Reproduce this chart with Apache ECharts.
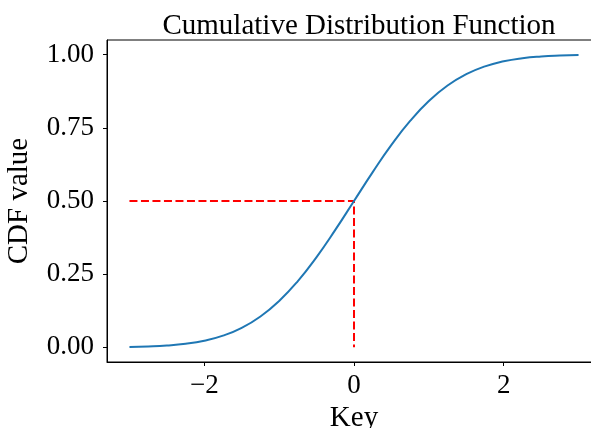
<!DOCTYPE html>
<html>
<head>
<meta charset="utf-8">
<script src="https://cdn.jsdelivr.net/npm/echarts@6/dist/echarts.min.js"></script>
<style>
  html, body { margin: 0; padding: 0; background: #fff; }
  #chart { width: 591px; height: 428px; }
</style>
</head>
<body>
<div id="chart"></div>
<script>
// Sample keys and their cumulative probabilities
const keys = [-3, -2.75, -2.5, -2.25, -2, -1.75, -1.5, -1.25, -1, -0.75, -0.5, -0.25,
              0, 0.25, 0.5, 0.75, 1, 1.25, 1.5, 1.75, 2, 2.25, 2.5, 2.75, 3];
const cdfValues = [0.0013, 0.003, 0.0062, 0.0122, 0.0228, 0.0401, 0.0668, 0.1056, 0.1587,
                   0.2266, 0.3085, 0.4013, 0.5, 0.5987, 0.6915, 0.7734, 0.8413, 0.8944,
                   0.9332, 0.9599, 0.9772, 0.9878, 0.9938, 0.997, 0.9987];

// Median guide: from the left end at CDF 0.5 to key 0, then down to 0
const medianGuide = [[-3, 0.5], [0, 0.5], [0, 0]];

const xTicks = [-2, 0, 2];
const yTicks = [0, 0.25, 0.5, 0.75, 1.0];

const fontFamily = '"Liberation Serif", "Times New Roman", serif';

const chart = echarts.init(document.getElementById('chart'));
chart.setOption({
  backgroundColor: '#fff',
  animation: false,
  title: {
    text: 'Cumulative Distribution Function',
    left: 354, textAlign: 'center',
    top: 7,
    textStyle: { fontFamily, fontSize: 29, fontWeight: 'normal', color: '#000' }
  },
  grid: {
    left: 107, top: 40, width: 494, height: 322,
    outerBoundsMode: 'none', containLabel: false,
    show: true, borderColor: '#000', borderWidth: 1, backgroundColor: 'transparent'
  },
  xAxis: {
    type: 'value', min: -3.3, max: 3.3,
    name: 'Key', nameLocation: 'middle', nameGap: 38,
    nameTextStyle: { fontFamily, fontSize: 29, color: '#000' },
    axisLine: { show: true, onZero: false, lineStyle: { color: '#000', width: 1 } },
    axisTick: { show: true, inside: false, length: 4, customValues: xTicks, lineStyle: { color: '#000' } },
    axisLabel: {
      customValues: xTicks, margin: 10, fontFamily, fontSize: 27, color: '#000',
      formatter: v => String(v).replace('-', '\u2212')
    },
    splitLine: { show: false }
  },
  yAxis: {
    type: 'value', min: -0.05, max: 1.05,
    name: 'CDF value', nameLocation: 'middle', nameGap: 73, nameRotate: 90,
    nameTextStyle: { fontFamily, fontSize: 29, color: '#000' },
    axisLine: { show: true, onZero: false, lineStyle: { color: '#000', width: 1 } },
    axisTick: { show: true, inside: false, length: 4, customValues: yTicks, lineStyle: { color: '#000' } },
    axisLabel: {
      customValues: yTicks, margin: 13, fontFamily, fontSize: 27, color: '#000',
      formatter: v => v.toFixed(2)
    },
    splitLine: { show: false }
  },
  series: [
    {
      type: 'line',
      data: keys.map((k, i) => [k, cdfValues[i]]),
      smooth: true,
      showSymbol: false,
      lineStyle: { color: '#1f77b4', width: 2 },
      z: 3
    },
    {
      type: 'line',
      data: medianGuide,
      showSymbol: false,
      lineStyle: { color: '#ff0000', width: 2, type: [8, 3.5] },
      z: 2
    }
  ]
});
</script>
</body>
</html>
